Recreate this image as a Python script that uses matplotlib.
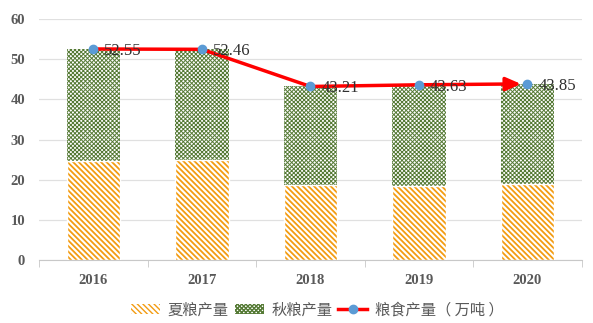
import matplotlib
matplotlib.use("Agg")
import matplotlib.pyplot as plt
import numpy as np
from matplotlib.patches import Patch
from matplotlib.lines import Line2D

years = ["2016", "2017", "2018", "2019", "2020"]
summer = [24.6, 24.8, 18.7, 18.4, 18.9]
total = [52.55, 52.46, 43.21, 43.63, 43.85]
autumn = [t - s for t, s in zip(total, summer)]

orange = "#F39C12"
green = "#557A35"
hatch_o = "\\" * 6
hatch_g = "x" * 8

fig = plt.figure(figsize=(5.93, 3.23), dpi=100)
ax = fig.add_axes([0.066, 0.195, 0.915, 0.746])

x = np.arange(len(years))
w = 0.49
with plt.rc_context({"hatch.linewidth": 1.3}):
    ax.bar(x, summer, w, color="white", edgecolor=orange, hatch=hatch_o, lw=0, zorder=2)
    h_o = Patch(facecolor="white", edgecolor=orange, hatch=hatch_o, lw=0)
with plt.rc_context({"hatch.linewidth": 0.7}):
    ax.bar(x, autumn, w, bottom=summer, color="white", edgecolor=green, hatch=hatch_g,
           lw=0, zorder=2)
    h_g = Patch(facecolor="white", edgecolor=green, hatch=hatch_g, lw=0)
# thin white separation between stacked parts
ax.bar(x, summer, w, fill=False, edgecolor="white", lw=1.0, zorder=3)

ax.plot(x[:-1], total[:-1], color="red", lw=2.5, zorder=4)
ax.annotate("", xy=(x[-1] - 0.06, total[-1]), xytext=(x[-2], total[-2]),
            arrowprops=dict(arrowstyle="-|>,head_length=0.9,head_width=0.4",
                            color="red", lw=2.5, shrinkA=0, shrinkB=0), zorder=4)
ax.plot(x, total, ls="none", marker="o", ms=6, color="#5B9BD5", zorder=5)
for xi, t in zip(x, total):
    ax.text(xi + 0.1, t - 0.5, f"{t:.2f}", fontsize=12, family="Liberation Serif",
            color="#303030", va="center", ha="left", zorder=6)

ax.set_ylim(0, 60)
ax.set_xlim(-0.5, len(years) - 0.5)
ax.set_yticks(range(0, 61, 10))
ax.yaxis.grid(True, color="#E0E0E0", lw=0.9)
ax.set_axisbelow(True)
for s in ["top", "right", "left"]:
    ax.spines[s].set_visible(False)
ax.spines["bottom"].set_color("#C8C8C8")
ax.tick_params(axis="y", length=0, pad=10)
ax.set_xticks(x)
ax.set_xticklabels(years)
ax.tick_params(axis="x", length=0, pad=10)
ax.set_xticks(np.arange(-0.5, len(years), 1), minor=True)
ax.tick_params(axis="x", which="minor", length=5, color="#C8C8C8")
for lab in ax.get_xticklabels() + ax.get_yticklabels():
    lab.set_family("Liberation Serif")
    lab.set_fontweight("bold")
    lab.set_fontsize(10.5)
    lab.set_color("#595959")

handles = [
    h_o,
    h_g,
    Line2D([], [], color="red", lw=2.5, marker="o", ms=6,
           markerfacecolor="#5B9BD5", markeredgecolor="#5B9BD5"),
]
labels = ["夏粮产量", "秋粮产量", "粮食产量（ 万吨 ）"]
leg = fig.legend(handles, labels, loc="center", bbox_to_anchor=(0.535, 0.04), ncol=3,
                 frameon=False, prop={"family": ["Noto Sans CJK SC", "DejaVu Sans"], "size": 11},
                 handlelength=1.9, handleheight=0.6, handletextpad=0.5, columnspacing=0.4)
for t in leg.get_texts():
    t.set_color("#595959")

fig.savefig("out.png", dpi=100)
